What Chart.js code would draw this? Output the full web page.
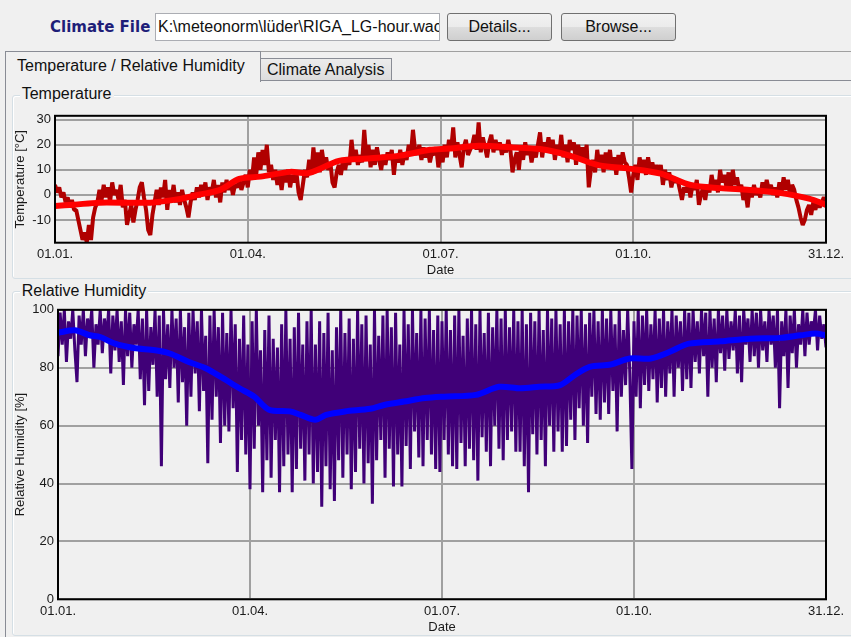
<!DOCTYPE html>
<html>
<head>
<meta charset="utf-8">
<title>Climate File</title>
<script src="https://cdn.jsdelivr.net/npm/chart.js@4.4.1/dist/chart.umd.min.js"></script>
<style>
  body { margin:0; width:851px; height:637px; overflow:hidden; position:relative; background:#f0f0f0;
         font-family:"Liberation Sans", Arial, sans-serif; font-size:16px; line-height:18px; color:#111; }
  .a { position:absolute; white-space:nowrap; }
  #fileLabel { left:50px; top:17.5px; font:bold 15px/18px "DejaVu Sans", sans-serif; color:#1e1e78; }
  #fileBox { left:155px; top:13px; width:283px; height:26px; background:#fff; border:1px solid #abadb3; overflow:hidden; }
  #fileBox span { position:absolute; left:2px; top:4px; white-space:nowrap; }
  .btn { top:13px; height:26px; border:1px solid #707070; border-radius:3px; text-align:center; line-height:26px;
         background:linear-gradient(#f2f2f2 0%, #ebebeb 50%, #dddddd 51%, #cfcfcf 100%); }
  #details { left:447px; width:103px; }
  #browse { left:561px; width:113px; }
  #sep { left:5px; top:51px; width:846px; height:1px; background:#a0a0a0; }
  #tab1 { left:5px; top:51px; width:254px; height:30px; border:1px solid #898c95; border-bottom:none; background:#f0f0f0; }
  #tab1 span { position:absolute; left:11px; top:5px; }
  #tab2 { left:260px; top:58px; width:130px; height:22px; border:1px solid #898c95; border-bottom:none;
          background:linear-gradient(#ececec, #dcdcdc); }
  #tab2 span { position:absolute; left:6px; top:1.5px; }
  #panelTop { left:261px; top:80px; width:590px; height:1px; background:#898c95; }
  #panelLeft { left:5px; top:80px; width:1px; height:557px; background:#898c95; }
  .group { left:12px; width:845px; border:1px solid #d5dfe5; border-radius:3px; box-shadow:inset 1px 1px 0 #fff; }
  #g1 { top:95px; height:182px; }
  #g2 { top:291px; height:343px; }
  .gtitle { left:19.7px; padding:0 2px; background:#f0f0f0; }
  #t1 { top:84.8px; }
  #t2 { top:282.2px; }
  canvas { position:absolute; left:12px; }
  #tempChart { top:104px; }
  #rhChart { top:298px; }
</style>
</head>
<body>
<div class="a" id="fileLabel">Climate File</div>
<div class="a" id="fileBox"><span>K:\meteonorm\lüder\RIGA_LG-hour.wac</span></div>
<div class="a btn" id="details">Details...</div>
<div class="a btn" id="browse">Browse...</div>
<div class="a" id="sep"></div>
<div class="a" id="tab1"><span>Temperature / Relative Humidity</span></div>
<div class="a" id="tab2"><span>Climate Analysis</span></div>
<div class="a" id="panelTop"></div>
<div class="a" id="panelLeft"></div>
<div class="a group" id="g1"></div>
<div class="a gtitle" id="t1">Temperature</div>
<div class="a group" id="g2"></div>
<div class="a gtitle" id="t2">Relative Humidity</div>
<canvas id="tempChart" width="839" height="174"></canvas>
<canvas id="rhChart" width="839" height="337"></canvas>

<script>
// date axis
var dateTickDays = [0, 91, 182, 273, 364];
var dateTickLabels = ['01.01.', '01.04.', '01.07.', '01.10.', '31.12.'];

// temperature, one value per day (day/night swings kept)
var tempHourly = [
  4, 1, 3, -1, 1, -3, -1, -5, -2, -6,
  -6, -10, -14, -18, -15, -19, -12, -18, -9, -5,
  -3, 2, -2, 4, -1, 3, -3, 5, 0, 2,
  -2, 4, -5, -2, -12, -8, -4, -11, -6, -2,
  3, 5, -1, -6, -14, -16, -8, -3, 2, -4,
  3, -1, 6, -6, 2, -2, 4, -3, 1, -4,
  2, -2, -5, -9, -3, 1, -2, 3, -1, 4,
  0, 5, -2, 3, 1, 6, -1, 4, -3, 5,
  1, 6, 2, 5, 0, 4, 3, 6, 2, 5,
  8, 3, 10, 6, 15, 8, 17, 10, 18, 12,
  20, 9, 12, 6, 10, 4, 8, 2, 9, 5,
  10, 3, 8, 5, 9, 1, -2, 4, 10, 7,
  14, 8, 19, 10, 17, 9, 18, 12, 15, 10,
  13, 5, 3, 9, 12, 8, 14, 10, 15, 12,
  22, 14, 18, 12, 16, 13, 26, 15, 20, 11,
  18, 12, 19, 14, 10, 16, 12, 17, 14, 18,
  8, 16, 13, 18, 12, 17, 14, 20, 16, 26,
  18, 16, 20, 14, 19, 15, 18, 13, 17, 16,
  19, 11, 17, 13, 20, 15, 22, 18, 27, 15,
  21, 16, 11, 19, 22, 16, 18, 20, 24, 18,
  29, 17, 23, 19, 15, 21, 24, 17, 22, 18,
  21, 16, 20, 17, 22, 18, 9, 14, 17, 10,
  19, 14, 21, 16, 19, 13, 18, 15, 20, 25,
  15, 21, 18, 23, 17, 22, 14, 20, 16, 24,
  15, 20, 13, 22, 18, 21, 12, 20, 15, 19,
  14, 20, 3, 10, 14, 9, 18, 11, 16, 9,
  17, 12, 18, 10, 15, 8, 16, 11, 17, 13,
  12, 7, 1, 8, 12, 6, 15, 10, 14, 8,
  15, 10, 13, 9, 12, 8, 12, 4, 10, 6,
  9, 3, 7, 5, 6, 2, -2, 3, 1, 5,
  -1, 4, 2, 6, -4, 0, 3, -2, 4, 1,
  8, 3, 6, 1, 10, 5, 8, 3, 9, 2,
  10, 4, 7, 2, 4, -2, 1, -5, 3, -1,
  4, 0, 2, -1, 5, 1, 6, 2, 4, 0,
  3, -1, 5, 1, 7, 2, 6, 0, 4, 2,
  -2, -5, -9, -12, -10, -6, -4, -8, -3, -6,
  -2, -5, -3, -1, -3];
// smoothed temperature
var tempSmoothDays = [0, 9, 21, 45, 59, 68, 78, 87, 97, 111, 120, 134, 149, 163, 177, 186, 200, 215, 229, 243, 257, 271, 286, 300, 314, 328, 342, 356, 364];
var tempSmooth = [-4.4, -3.9, -3.1, -3.1, -1.6, 0.1, 2, 6.4, 7.3, 9.2, 8.8, 13.6, 14.6, 15.7, 18, 18.5, 19.6, 19, 18.3, 15.7, 11.8, 10.5, 8.5, 4, 2.7, 2, 0.8, -1.5, -4];
var tempTicks = [-10, 0, 10, 20, 30];

// relative humidity, one value per day
var rhHourly = [
  84, 99, 88, 100, 82, 96, 90, 100, 86, 75,
  98, 88, 100, 84, 97, 92, 100, 80, 95, 88,
  100, 85, 97, 90, 100, 78, 98, 86, 100, 82,
  96, 74, 100, 84, 99, 80, 95, 88, 100, 76,
  97, 67, 100, 72, 94, 81, 100, 70, 98, 46,
  100, 76, 95, 73, 100, 80, 97, 68, 100, 75,
  94, 60, 99, 70, 100, 78, 96, 65, 100, 72,
  91, 47, 98, 62, 100, 70, 94, 54, 99, 60,
  92, 58, 100, 66, 95, 44, 90, 55, 98, 50,
  88, 38, 96, 52, 100, 60, 86, 37, 93, 48,
  98, 42, 90, 55, 87, 37, 95, 46, 100, 50,
  90, 37, 94, 45, 99, 52, 88, 41, 96, 50,
  100, 40, 88, 44, 96, 32, 92, 46, 99, 38,
  86, 34, 94, 48, 100, 42, 92, 50, 97, 38,
  90, 44, 100, 52, 95, 40, 98, 47, 88, 33,
  100, 48, 91, 55, 98, 42, 100, 52, 94, 39,
  99, 50, 88, 39, 100, 53, 95, 45, 100, 58,
  92, 49, 100, 46, 97, 55, 100, 50, 93, 45,
  98, 44, 96, 55, 100, 50, 93, 46, 98, 45,
  100, 54, 91, 46, 97, 52, 100, 48, 95, 41,
  100, 56, 92, 51, 99, 46, 94, 60, 100, 52,
  97, 48, 100, 55, 94, 58, 100, 51, 96, 51,
  100, 46, 95, 37, 99, 57, 96, 50, 100, 55,
  93, 46, 100, 60, 97, 51, 100, 58, 95, 51,
  100, 53, 96, 62, 100, 55, 98, 66, 100, 60,
  95, 54, 99, 70, 100, 64, 96, 62, 100, 68,
  97, 64, 100, 72, 95, 58, 100, 70, 93, 74,
  100, 78, 45, 96, 70, 100, 66, 98, 74, 100,
  72, 95, 76, 100, 68, 97, 73, 100, 70, 96,
  78, 100, 70, 98, 80, 96, 72, 100, 76, 99,
  73, 100, 82, 96, 78, 100, 84, 99, 70, 100,
  80, 97, 75, 100, 85, 98, 79, 100, 83, 96,
  86, 100, 78, 98, 75, 100, 88, 97, 82, 100,
  84, 99, 80, 100, 86, 96, 82, 100, 88, 98,
  80, 100, 66, 96, 84, 100, 73, 98, 85, 100,
  80, 95, 88, 100, 84, 99, 88, 96, 92, 100,
  86, 98, 90, 95, 87];
// smoothed humidity
var rhSmoothDays = [0, 8, 15, 20, 27, 36, 46, 53, 62, 70, 77, 86, 93, 100, 110, 115, 122, 127, 136, 148, 155, 164, 174, 183, 198, 209, 219, 228, 238, 245, 252, 262, 271, 281, 290, 299, 314, 328, 342, 352, 359, 364];
var rhSmooth = [92.1, 92.9, 91.2, 90.6, 88.3, 86.8, 86, 84.9, 82, 79.8, 76.9, 72.9, 70, 65.5, 64.9, 63.7, 62, 63.7, 64.9, 65.8, 67.2, 68.3, 69.5, 70, 70.6, 73.4, 72.9, 73.4, 74, 77.5, 80.3, 81.1, 83.2, 83.2, 85.5, 88.3, 89.1, 90, 90.3, 91.2, 91.8, 91.2];
var rhTicks = [0, 20, 40, 60, 80, 100];

Chart.defaults.font.family = '"Liberation Sans", Arial, sans-serif';
Chart.defaults.font.size = 13;
Chart.defaults.color = '#1a1a1a';

function spread(values) {
  var step = 364 / (values.length - 1);
  return values.map(function (v, i) { return { x: i * step, y: v }; });
}
function pairs(days, values) {
  return days.map(function (d, i) { return { x: d, y: values[i] }; });
}

// black frame round the plot area
var framePlugin = {
  id: 'frame',
  afterDatasetsDraw: function (chart) {
    var c = chart.ctx, a = chart.chartArea;
    c.save();
    c.strokeStyle = '#000';
    c.lineWidth = 2;
    c.strokeRect(a.left, a.top, a.right - a.left, a.bottom - a.top);
    c.restore();
  }
};

function makeChart(id, o) {
  return new Chart(document.getElementById(id), {
    type: 'line',
    data: {
      datasets: [{
        data: o.smooth, borderColor: o.smoothColor, borderWidth: 6, pointRadius: 0,
        tension: 0.3, borderJoinStyle: 'round', borderCapStyle: 'round'
      }, {
        data: o.hourly, borderColor: o.hourlyColor, borderWidth: o.hourlyWidth, pointRadius: 0,
        tension: 0, borderJoinStyle: 'bevel'
      }]
    },
    options: {
      responsive: false,
      animation: false,
      devicePixelRatio: 1,
      layout: { padding: { left: 0, top: o.top, right: 25, bottom: 0 } },
      plugins: { legend: { display: false }, tooltip: { enabled: false } },
      scales: {
        x: {
          type: 'linear', min: 0, max: 364,
          afterBuildTicks: function (s) { s.ticks = dateTickDays.map(function (v) { return { value: v }; }); },
          afterFit: function (s) { s.height = o.xHeight; },
          ticks: {
            autoSkip: false, maxRotation: 0, padding: 4,
            callback: function (v, i) { return dateTickLabels[i]; }
          },
          grid: { color: '#a0a0a0', lineWidth: 2, drawTicks: false },
          border: { display: false },
          title: { display: true, text: 'Date', padding: { top: 0, bottom: 0 } }
        },
        y: {
          min: o.min, max: o.max,
          afterBuildTicks: function (s) { s.ticks = o.ticks.map(function (v) { return { value: v }; }); },
          afterFit: function (s) { s.width = o.yWidth; },
          ticks: { padding: 4 },
          grid: { color: '#a0a0a0', lineWidth: 2, drawTicks: false },
          border: { display: false },
          title: { display: true, text: o.yTitle, padding: { top: 1, bottom: 0 } }
        }
      }
    },
    plugins: [framePlugin]
  });
}

makeChart('tempChart', {
  hourly: spread(tempHourly), smooth: pairs(tempSmoothDays, tempSmooth),
  hourlyColor: '#b00000', smoothColor: '#ff0000', hourlyWidth: 4,
  min: -19.1, max: 31.6, ticks: tempTicks, yTitle: 'Temperature [°C]',
  top: 8.7, xHeight: 35.3, yWidth: 43
});

makeChart('rhChart', {
  hourly: spread(rhHourly), smooth: pairs(rhSmoothDays, rhSmooth),
  hourlyColor: '#400078', smoothColor: '#0000ff', hourlyWidth: 3,
  min: 0, max: 100, ticks: rhTicks, yTitle: 'Relative Humidity [%]',
  top: 11.3, xHeight: 35.7, yWidth: 46
});
</script>
</body>
</html>
